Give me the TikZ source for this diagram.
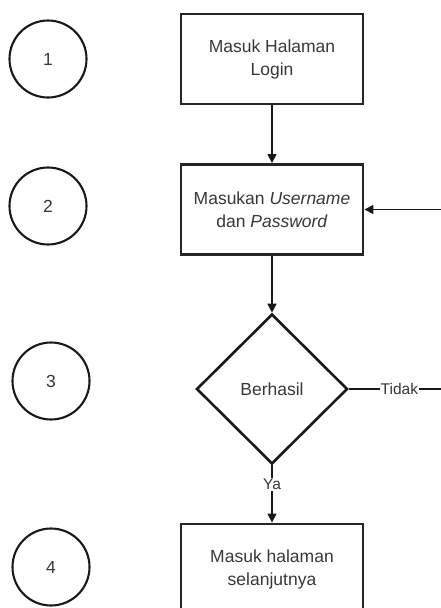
\documentclass[tikz,border=0pt]{standalone}
\usepackage{fontspec}
\setmainfont{Liberation Sans}
\usetikzlibrary{shapes.geometric,arrows.meta}
\begin{document}
\begin{tikzpicture}[x=1pt,y=-1pt,
  txt/.style={text=black!78, font=\fontsize{17.5}{23}\selectfont, align=center},
  stepbox/.style={txt, draw=black!85, line width=2.9pt, rectangle,
    minimum width=182pt, minimum height=90pt, inner sep=0pt},
  decision/.style={txt, draw=black!90, line width=2.6pt, diamond,
    minimum width=151pt, minimum height=150pt, inner sep=0pt},
  stepnum/.style={txt, draw=black!90, line width=2.1pt, circle,
    minimum size=77pt, inner sep=0pt},
  flow/.style={draw=black!90, line width=1.6pt,
    -{Triangle[length=9pt,width=9pt]}},
  lbl/.style={text=black!78, font=\fontsize{15.5}{18}\selectfont,
    fill=white, inner sep=1pt}
]
\useasboundingbox (0,0) rectangle (441,608);
\clip (0,0) rectangle (441,608);

% step numbers
\node[stepnum] (n1) at (48,59) {1};
\node[stepnum] (n2) at (48,206) {2};
\node[stepnum] (n3) at (51,381) {3};
\node[stepnum] (n4) at (51,567) {4};

% flow steps
\node[stepbox] (login) at (272,59) {Masuk Halaman\\Login};
\node[stepbox] (input) at (272,209.5) {Masukan \textit{Username}\\dan \textit{Password}};
\node[decision] (check) at (272,389) {Berhasil};
\node[stepbox] (next) at (272,569) {Masuk halaman\\selanjutnya};

% loop-back corner just past the right edge
\coordinate (back) at (446,389);

% connectors
\draw[flow] (login.south) -- (input.north);
\draw[flow] (input.south) -- (check.north);
\draw[flow] (check.south) -- node[lbl, pos=0.33] {Ya} (next.north);
\draw[flow] (check.east) -- node[lbl, pos=0.52] {Tidak} (back) |- (input.east);
\end{tikzpicture}
\end{document}
